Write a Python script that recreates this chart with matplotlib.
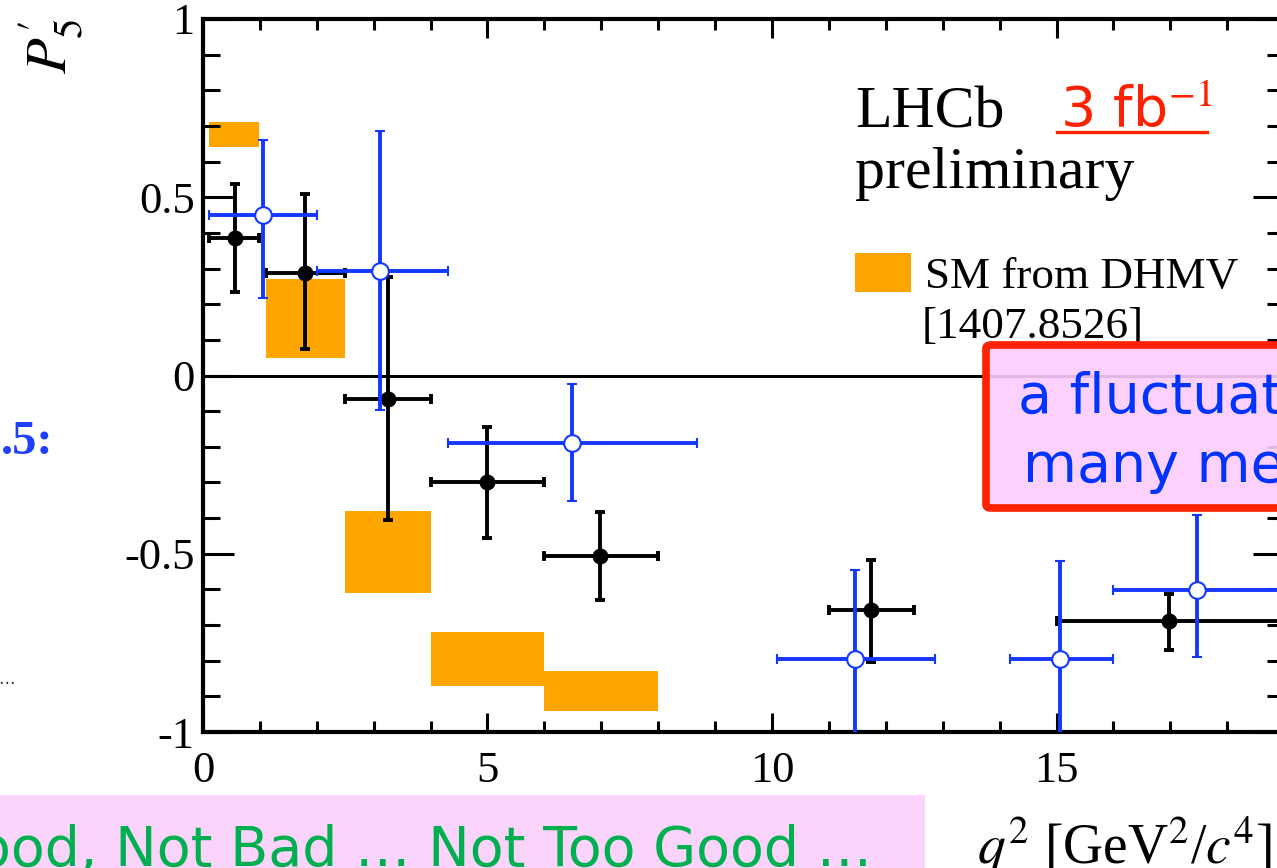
import numpy as np
import matplotlib
matplotlib.use("Agg")
import matplotlib.pyplot as plt
from matplotlib.patches import Rectangle, FancyBboxPatch
from matplotlib.lines import Line2D
from matplotlib.ticker import FixedLocator, MultipleLocator, FixedFormatter

# ---------------- data ----------------
# SM prediction (DHMV) bands: q2 bin edges and P5' range
sm_q2_lo = [0.1, 1.1, 2.5, 4.0, 6.0]
sm_q2_hi = [0.98, 2.5, 4.0, 6.0, 8.0]
sm_p5_lo = [0.64, 0.05, -0.61, -0.87, -0.94]
sm_p5_hi = [0.71, 0.27, -0.38, -0.72, -0.83]

# LHCb 3 fb^-1 preliminary (filled black)
run1_q2 = [0.56, 1.79, 3.25, 5.0, 6.98, 11.74, 16.98]
run1_q2_lo = [0.1, 1.1, 2.5, 4.0, 6.0, 11.0, 15.0]
run1_q2_hi = [0.98, 2.5, 4.0, 6.0, 8.0, 12.5, 19.0]
run1_p5 = [0.385, 0.287, -0.066, -0.300, -0.506, -0.659, -0.688]
run1_p5_up = [0.537, 0.508, 0.275, -0.145, -0.384, -0.517, -0.612]
run1_p5_dn = [0.233, 0.073, -0.404, -0.455, -0.629, -0.803, -0.770]

# LHCb 1 fb^-1 (open blue)
old_q2 = [1.06, 3.11, 6.48, 11.46, 15.06, 17.47]
old_q2_lo = [0.1, 2.0, 4.3, 10.09, 14.18, 16.0]
old_q2_hi = [2.0, 4.3, 8.68, 12.86, 16.0, 19.0]
old_p5 = [0.449, 0.292, -0.189, -0.795, -0.795, -0.601]
old_p5_up = [0.660, 0.686, -0.025, -0.545, -0.520, -0.390]
old_p5_dn = [0.216, -0.098, -0.352, -1.10, -1.10, -0.790]

xtick_vals = [0, 5, 10, 15]
xtick_labels = ["0", "5", "10", "15"]
ytick_vals = [-1, -0.5, 0, 0.5, 1]
ytick_labels = ["-1", "-0.5", "0", "0.5", "1"]

# ---------------- style ----------------
plt.rcParams["axes.unicode_minus"] = False
plt.rcParams["mathtext.fontset"] = "stix"
SERIF = "Liberation Serif"
ORANGE = "#FFA500"
BLUE = "#1438FF"
RED = "#FF2200"

W, H = 1277, 868
fig = plt.figure(figsize=(W / 100, H / 100), dpi=100)


def fx(px):
    return px / W


def fy(py):
    return 1 - py / H


ax = fig.add_axes([fx(203), fy(732), 19 * 56.9 / W, (732 - 19) / H])
ax.set_xlim(0, 19)
ax.set_ylim(-1, 1)

# SM bands
ax.bar(sm_q2_lo, np.subtract(sm_p5_hi, sm_p5_lo),
       width=np.subtract(sm_q2_hi, sm_q2_lo), bottom=sm_p5_lo,
       align="edge", color=ORANGE, linewidth=0, zorder=1)

ax.axhline(0, color="black", lw=2.2, zorder=1.5)


# data points with bin-width horizontal bars
def draw_points(q2, lo, hi, val, up, dn, **kw):
    q2 = np.asarray(q2)
    val = np.asarray(val)
    xerr = [q2 - np.asarray(lo), np.asarray(hi) - q2]
    yerr = [val - np.asarray(dn), np.asarray(up) - val]
    ax.errorbar(q2, val, xerr=xerr, yerr=yerr, fmt="o",
                capsize=3.5, capthick=2.8, elinewidth=2.8, **kw)


draw_points(run1_q2, run1_q2_lo, run1_q2_hi, run1_p5, run1_p5_up, run1_p5_dn,
            color="black", ms=10.5, zorder=3)
draw_points(old_q2, old_q2_lo, old_q2_hi, old_p5, old_p5_up, old_p5_dn,
            color=BLUE, ms=12, mfc="white", mec=BLUE, mew=1.5, zorder=4)

# axes frame and ticks
for s in ax.spines.values():
    s.set_linewidth(3)
ax.xaxis.set_major_locator(FixedLocator(xtick_vals))
ax.xaxis.set_major_formatter(FixedFormatter(xtick_labels))
ax.xaxis.set_minor_locator(MultipleLocator(1))
ax.yaxis.set_major_locator(FixedLocator(ytick_vals))
ax.yaxis.set_major_formatter(FixedFormatter(ytick_labels))
ax.yaxis.set_minor_locator(MultipleLocator(0.1))
ax.tick_params(axis="both", which="both", direction="in", top=True, right=True,
               width=2.2)
ax.tick_params(axis="x", which="major", length=14, pad=14, labelsize=32)
ax.tick_params(axis="x", which="minor", length=8)
ax.tick_params(axis="y", which="major", length=22, pad=6, labelsize=32)
ax.tick_params(axis="y", which="minor", length=12)
for lab in ax.get_xticklabels() + ax.get_yticklabels():
    lab.set_fontfamily(SERIF)

# axis titles
fig.text(fx(16), fy(18), r"$P_{5}^{\prime}$", rotation=90, ha="left",
         va="top", fontsize=42, family=SERIF)
fig.text(fx(977), fy(864), r"$q^2$ [GeV$^2$/$c^4$]", ha="left",
         va="baseline", fontsize=40, family=SERIF)

# experiment label and legend
fig.text(fx(855), fy(128), "LHCb", ha="left", va="baseline",
         fontsize=43, family=SERIF)
fig.text(fx(855), fy(188), "preliminary", ha="left", va="baseline",
         fontsize=43, family=SERIF)
fig.add_artist(Rectangle((fx(855), fy(292)), fx(56), (292 - 253) / H,
                         transform=fig.transFigure, color=ORANGE, lw=0))
fig.text(fx(925), fy(288), "SM from DHMV", ha="left", va="baseline",
         fontsize=32.5, family=SERIF)
fig.text(fx(922), fy(338), "[1407.8526]", ha="left", va="baseline",
         fontsize=32.5, family=SERIF)

fig.text(fx(1060), fy(127), r"3 fb$^{-1}$", ha="left", va="baseline",
         fontsize=40, color=RED, family="DejaVu Sans")
fig.add_artist(Line2D([fx(1057), fx(1207)], [fy(132), fy(132)],
                      transform=fig.transFigure, color=RED, lw=2.4))

# boxed remark on the right
fig.add_artist(FancyBboxPatch((fx(986), fy(508)), fx(340), (508 - 345) / H,
                              boxstyle="round,pad=0,rounding_size=0.004",
                              transform=fig.transFigure, facecolor="#FDCCFD",
                              alpha=0.9, edgecolor="none", zorder=5))
fig.add_artist(FancyBboxPatch((fx(986), fy(508)), fx(340), (508 - 345) / H,
                              boxstyle="round,pad=0,rounding_size=0.004",
                              transform=fig.transFigure, facecolor="none",
                              edgecolor=RED, lw=5.5, zorder=6))
fig.text(fx(1018), fy(413), "a fluctuation", ha="left", va="baseline",
         fontsize=40, color="#0033FF", family="DejaVu Sans", zorder=7)
fig.text(fx(1023), fy(482), "many measurements", ha="left", va="baseline",
         fontsize=40, color="#0033FF", family="DejaVu Sans", zorder=7)

# bottom banner
fig.add_artist(Rectangle((0, 0), fx(925), (H - 795) / H,
                         transform=fig.transFigure, color="#FAD4FA", lw=0,
                         zorder=5))
fig.text(fx(872), fy(866), "Good, Not Bad \u2026 Not Too Good \u2026",
         ha="right", va="baseline", fontsize=40, color="#00B050",
         family="DejaVu Sans", zorder=7)

# fragments at the left edge
fig.text(fx(1), fy(454), ".5:", ha="left", va="baseline", fontsize=35,
         fontweight="bold", color="#1F3FFF", family=SERIF)
fig.text(fx(-2), fy(684), "\u2026", ha="left", va="baseline", fontsize=12,
         color="#333333")

fig.savefig("out.png", dpi=100)
